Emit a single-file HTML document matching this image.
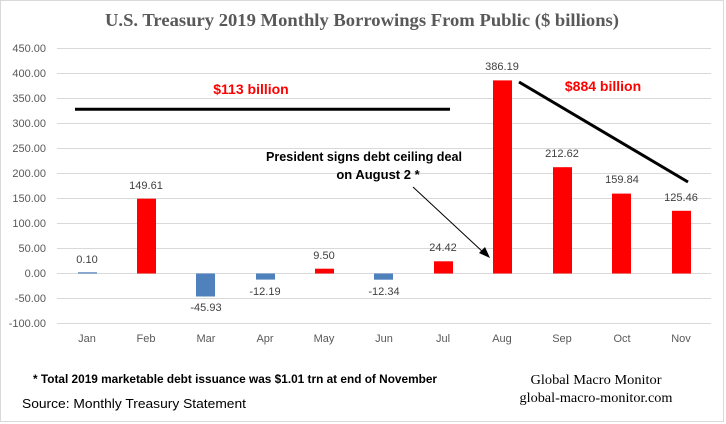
<!DOCTYPE html>
<html><head><meta charset="utf-8"><style>
html,body{margin:0;padding:0;background:#fff;}
svg{display:block;}
</style></head><body>
<svg width="726" height="424" xmlns="http://www.w3.org/2000/svg" font-family="Liberation Sans, sans-serif">
<rect x="0.5" y="0.5" width="723" height="421" fill="#fff" stroke="#d9d9d9"/>
<text x="362" y="26" text-anchor="middle" font-family="Liberation Serif, serif" font-weight="bold" font-size="17.5" fill="#595959" textLength="514" lengthAdjust="spacingAndGlyphs">U.S. Treasury 2019 Monthly Borrowings From Public ($ billions)</text>
<g stroke="#d9d9d9" stroke-width="1">
<line x1="57" x2="711" y1="48.5" y2="48.5"/><line x1="57" x2="711" y1="73.5" y2="73.5"/>
<line x1="57" x2="711" y1="98.5" y2="98.5"/><line x1="57" x2="711" y1="123.5" y2="123.5"/>
<line x1="57" x2="711" y1="148.5" y2="148.5"/><line x1="57" x2="711" y1="173.5" y2="173.5"/>
<line x1="57" x2="711" y1="198.5" y2="198.5"/><line x1="57" x2="711" y1="223.5" y2="223.5"/>
<line x1="57" x2="711" y1="248.5" y2="248.5"/><line x1="57" x2="711" y1="273.5" y2="273.5"/>
<line x1="57" x2="711" y1="298.5" y2="298.5"/><line x1="57" x2="711" y1="323.5" y2="323.5"/>
</g>
<g font-size="11" fill="#595959" text-anchor="end">
<text x="46" y="52">450.00</text><text x="46" y="77">400.00</text><text x="46" y="102">350.00</text>
<text x="46" y="127">300.00</text><text x="46" y="152">250.00</text><text x="46" y="177">200.00</text>
<text x="46" y="202">150.00</text><text x="46" y="227">100.00</text><text x="46" y="252">50.00</text>
<text x="46" y="277">0.00</text><text x="46" y="302">-50.00</text><text x="46" y="327">-100.00</text>
</g>
<g>
<rect x="78" y="272.3" width="19" height="1.2" fill="#4f81bd"/>
<rect x="137" y="198.7" width="19" height="74.8" fill="#ff0000"/>
<rect x="196" y="273.5" width="19" height="23" fill="#4f81bd"/>
<rect x="256" y="273.5" width="19" height="6.1" fill="#4f81bd"/>
<rect x="315" y="268.7" width="19" height="4.8" fill="#ff0000"/>
<rect x="374" y="273.5" width="19" height="6.2" fill="#4f81bd"/>
<rect x="434" y="261.3" width="19" height="12.2" fill="#ff0000"/>
<rect x="493" y="80.4" width="19" height="193.1" fill="#ff0000"/>
<rect x="553" y="167.2" width="19" height="106.3" fill="#ff0000"/>
<rect x="612" y="193.6" width="19" height="79.9" fill="#ff0000"/>
<rect x="672" y="210.8" width="19" height="62.7" fill="#ff0000"/>
</g>
<g font-size="11" fill="#404040" text-anchor="middle">
<text x="87" y="263">0.10</text><text x="146" y="189">149.61</text><text x="206" y="311">-45.93</text>
<text x="265" y="295">-12.19</text><text x="324" y="259">9.50</text><text x="384" y="295">-12.34</text>
<text x="443" y="251">24.42</text><text x="502" y="70">386.19</text><text x="562" y="157">212.62</text>
<text x="622" y="183">159.84</text><text x="681" y="201">125.46</text>
</g>
<g font-size="11" fill="#595959" text-anchor="middle">
<text x="87" y="342">Jan</text><text x="146" y="342">Feb</text><text x="206" y="342">Mar</text>
<text x="265" y="342">Apr</text><text x="324" y="342">May</text><text x="384" y="342">Jun</text>
<text x="443" y="342">Jul</text><text x="502" y="342">Aug</text><text x="562" y="342">Sep</text>
<text x="622" y="342">Oct</text><text x="681" y="342">Nov</text>
</g>
<line x1="75" y1="109.3" x2="450" y2="109.3" stroke="#000" stroke-width="3"/>
<line x1="519" y1="82" x2="688" y2="182" stroke="#000" stroke-width="3"/>
<text x="251" y="94" text-anchor="middle" font-weight="bold" font-size="14" fill="#ff0000">$113 billion</text>
<text x="603" y="91" text-anchor="middle" font-weight="bold" font-size="14" fill="#ff0000">$884 billion</text>
<text x="364" y="161" text-anchor="middle" font-weight="bold" font-size="13" fill="#000" textLength="196" lengthAdjust="spacingAndGlyphs">President signs debt ceiling deal</text>
<text x="378" y="179" text-anchor="middle" font-weight="bold" font-size="13" fill="#000">on August 2 *</text>
<line x1="413" y1="187" x2="484" y2="253" stroke="#000" stroke-width="1"/>
<polygon points="490,258 479,253 485,247" fill="#000"/>
<text x="33" y="383" font-weight="bold" font-size="12" fill="#000" textLength="404" lengthAdjust="spacingAndGlyphs">* Total 2019 marketable debt issuance was $1.01 trn at end of November</text>
<text x="22" y="408" font-size="13" fill="#000" textLength="224" lengthAdjust="spacingAndGlyphs">Source: Monthly Treasury Statement</text>
<text x="596" y="384" text-anchor="middle" font-family="Liberation Serif, serif" font-size="14" fill="#000" textLength="131" lengthAdjust="spacingAndGlyphs">Global Macro Monitor</text>
<text x="596" y="402" text-anchor="middle" font-family="Liberation Serif, serif" font-size="14" fill="#000" textLength="153" lengthAdjust="spacingAndGlyphs">global-macro-monitor.com</text>
</svg>
</body></html>
